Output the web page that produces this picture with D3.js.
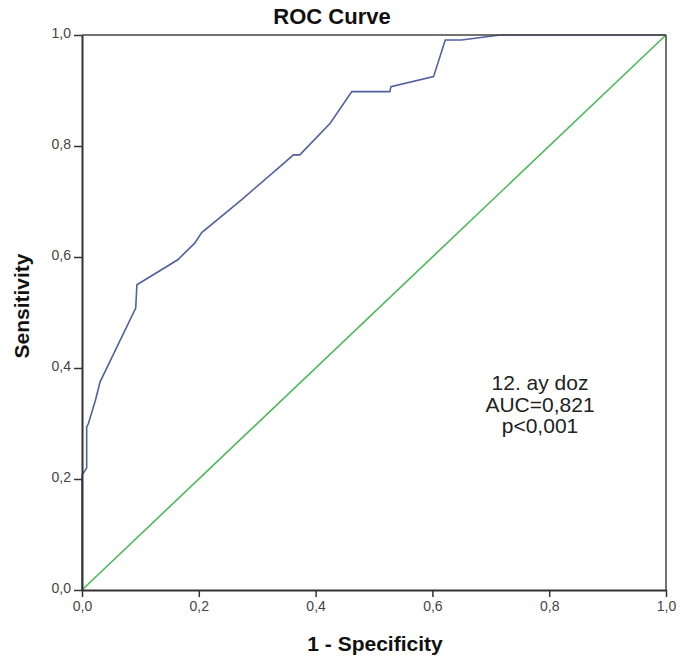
<!DOCTYPE html>
<html><head><meta charset="utf-8">
<script src="https://cdn.jsdelivr.net/npm/d3@7"></script>
<style>body{margin:0;background:#fff;} svg{display:block;}</style>
</head><body>
<svg id="c" width="682" height="663"></svg>
<script>
const rocFPR = [0, 0, 0.008, 0.008, 0.011, 0.023, 0.031, 0.092, 0.094, 0.164, 0.193, 0.205, 0.273, 0.339, 0.362, 0.373, 0.425, 0.462, 0.527, 0.529, 0.602, 0.622, 0.650, 0.716, 1.0];
const rocTPR = [0, 0.207, 0.22, 0.294, 0.30, 0.342, 0.375, 0.508, 0.55, 0.595, 0.625, 0.644, 0.703, 0.763, 0.784, 0.784, 0.841, 0.898, 0.898, 0.907, 0.925, 0.991, 0.991, 1.0, 1.0];
const refLine = [0, 1];
const tickValues = [0, 0.2, 0.4, 0.6, 0.8, 1.0];
const tickLabels = ["0,0", "0,2", "0,4", "0,6", "0,8", "1,0"];
const annotation = ["12. ay doz", "AUC=0,821", "p<0,001"];
const title = "ROC Curve";
const xTitle = "1 - Specificity";
const yTitle = "Sensitivity";

const svg = d3.select("#c");
const L = 82, R = 666, T = 35, B = 590;
const x = d3.scaleLinear().domain([0, 1]).range([L, R]);
const y = d3.scaleLinear().domain([0, 1]).range([B, T]);
const font = "Arial, 'Liberation Sans', sans-serif";

// diagonal reference
svg.append("line")
  .attr("x1", x(refLine[0])).attr("y1", y(refLine[0]))
  .attr("x2", x(refLine[1])).attr("y2", y(refLine[1]))
  .attr("stroke", "#4cb85a").attr("stroke-width", 1.6);

// ROC curve
const pts = rocFPR.map((v, i) => [v, rocTPR[i]]);
svg.append("path").datum(pts)
  .attr("d", d3.line().x(d => x(d[0])).y(d => y(d[1])))
  .attr("fill", "none").attr("stroke", "#52609e").attr("stroke-width", 1.6);

// frame top/right
svg.append("line").attr("x1", L).attr("x2", R).attr("y1", T).attr("y2", T).attr("stroke", "#444").attr("stroke-width", 1.5);
svg.append("line").attr("x1", R).attr("x2", R).attr("y1", T).attr("y2", B).attr("stroke", "#444").attr("stroke-width", 1.5);

// axes
const fmt = d => tickLabels[tickValues.indexOf(d)];
const xAxis = svg.append("g").attr("transform", `translate(0,${B})`)
  .call(d3.axisBottom(x).tickValues(tickValues).tickFormat(fmt).tickSize(7).tickSizeOuter(0).tickPadding(4));
const yAxis = svg.append("g").attr("transform", `translate(${L},0)`)
  .call(d3.axisLeft(y).tickValues(tickValues).tickFormat(fmt).tickSize(8).tickSizeOuter(0).tickPadding(3));
[xAxis, yAxis].forEach(g => {
  g.select(".domain").attr("stroke", "#333").attr("stroke-width", 2);
  g.selectAll(".tick line").attr("stroke", "#333").attr("stroke-width", 1.5);
  g.selectAll(".tick text").attr("fill", "#444").style("font-family", font).style("font-size", "14px");
});
yAxis.selectAll(".tick text").attr("dy", "0.2em");

// titles
svg.append("text").attr("x", 332).attr("y", 24).attr("text-anchor", "middle")
  .style("font-family", font).style("font-weight", "bold").style("font-size", "22px").attr("fill", "#111").text(title);
svg.append("text").attr("x", 375).attr("y", 651).attr("text-anchor", "middle")
  .style("font-family", font).style("font-weight", "bold").style("font-size", "21px").attr("fill", "#111").text(xTitle);
svg.append("text").attr("transform", "translate(29,306) rotate(-90)").attr("text-anchor", "middle")
  .style("font-family", font).style("font-weight", "bold").style("font-size", "21px").attr("fill", "#111").text(yTitle);

// annotation
svg.append("g").selectAll("text").data(annotation).join("text")
  .attr("x", 540).attr("y", (d, i) => 390 + i * 21.5).attr("text-anchor", "middle")
  .style("font-family", font).style("font-size", "21px").attr("fill", "#222").text(d => d);
</script>
</body></html>
